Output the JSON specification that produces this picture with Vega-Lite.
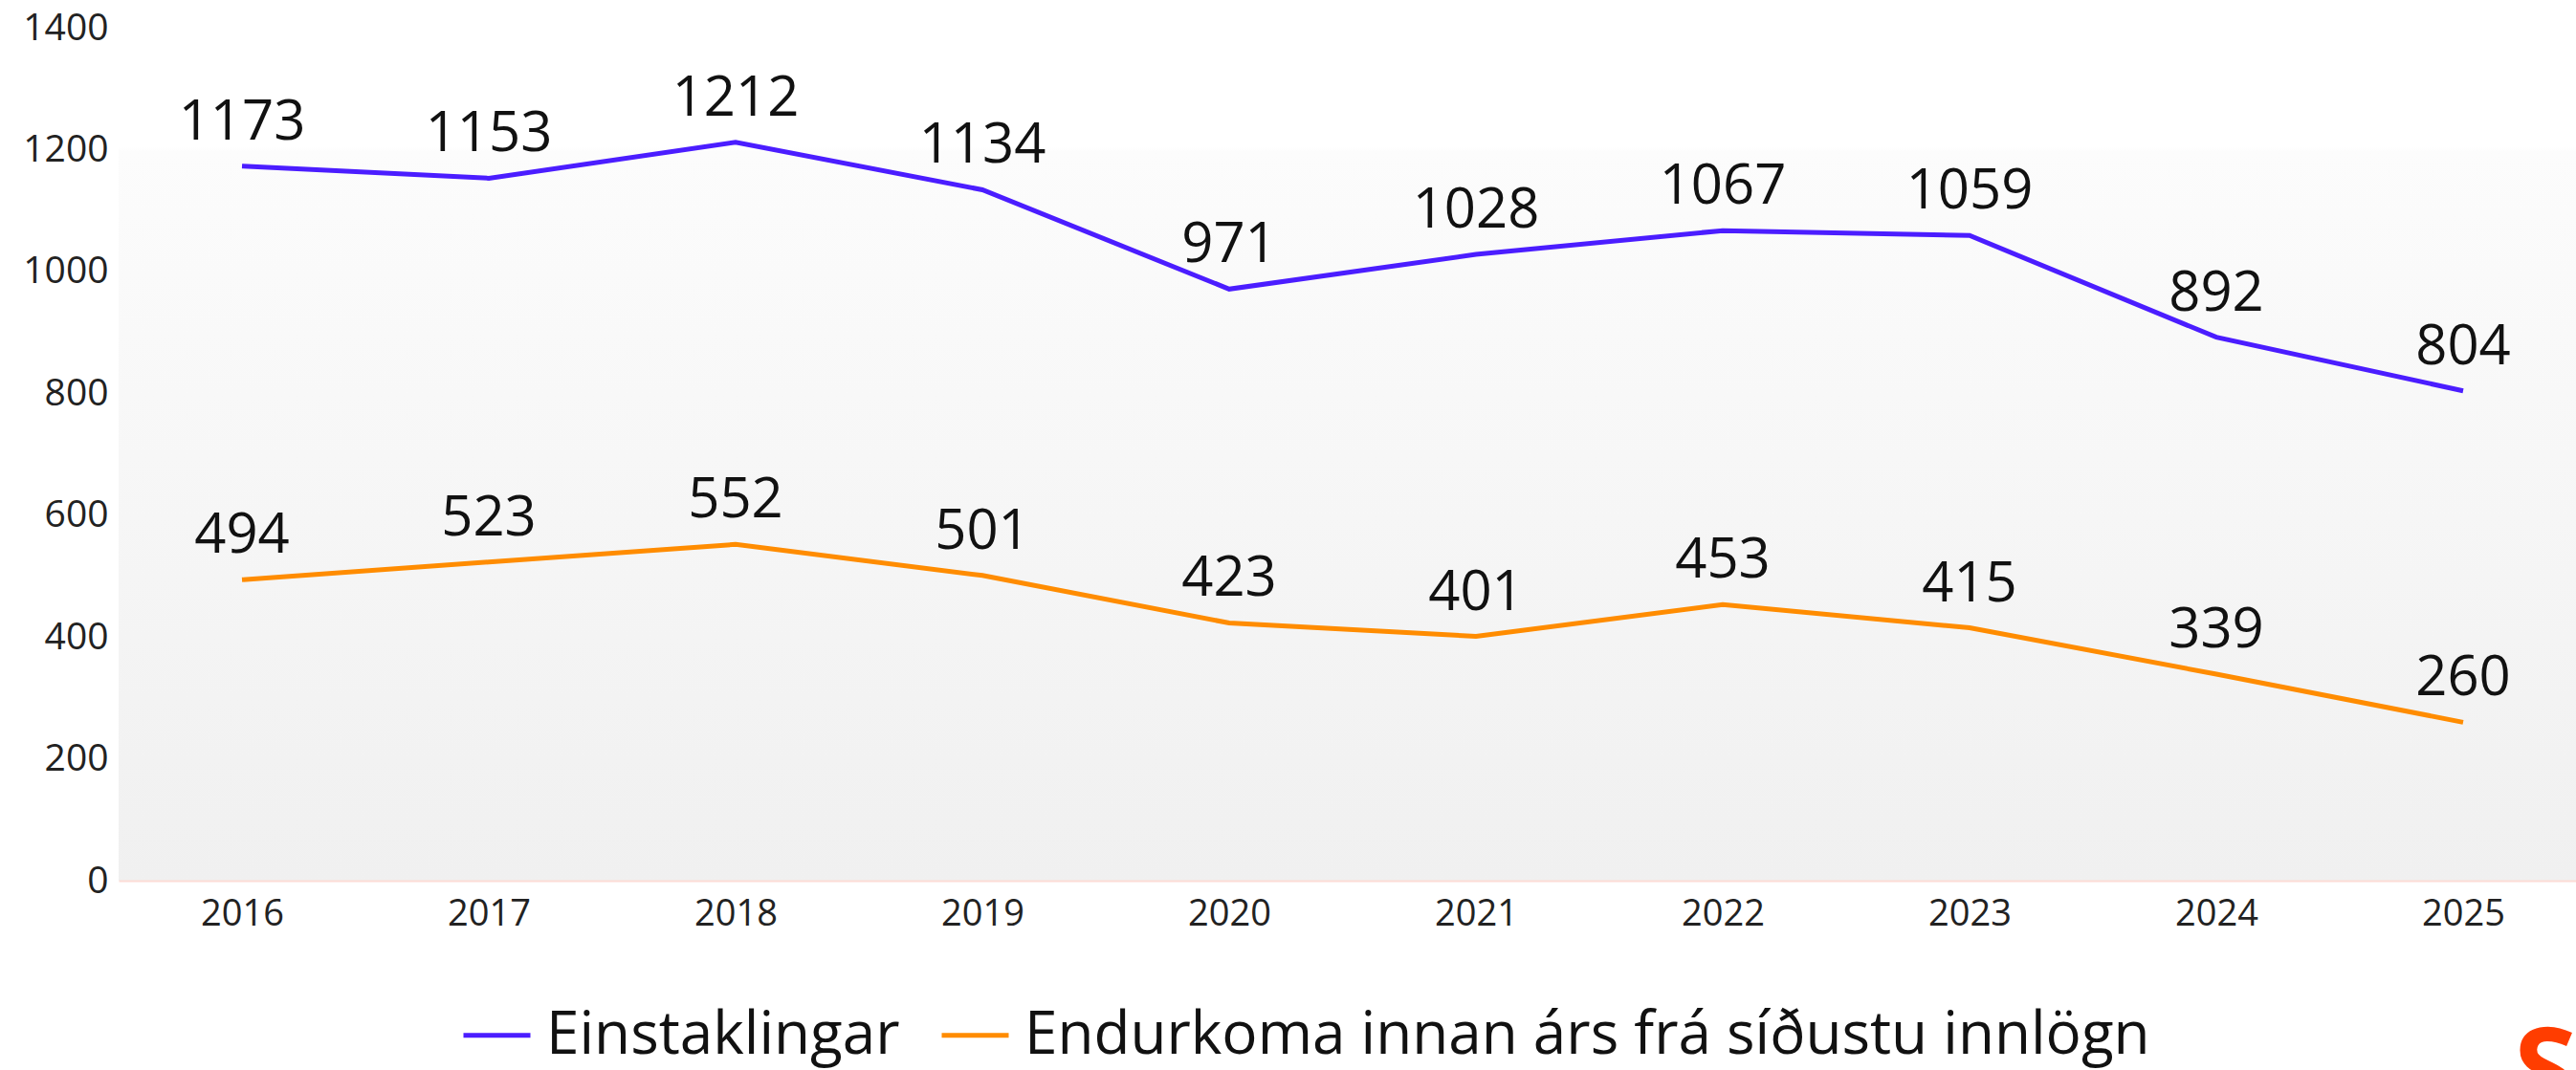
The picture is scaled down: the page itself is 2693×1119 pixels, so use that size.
{
  "$schema": "https://vega.github.io/schema/vega-lite/v6.json",
  "width": 2580,
  "height": 892,
  "autosize": {"type": "none"},
  "padding": {"left": 124, "top": 29, "right": 0, "bottom": 198},
  "background": "white",
  "config": {
    "font": "Open Sans",
    "view": {
      "stroke": null,
      "fill": {
        "gradient": "linear",
        "x1": 0, "y1": 0, "x2": 0, "y2": 1,
        "stops": [
          {"offset": 0, "color": "#ffffff"},
          {"offset": 0.14, "color": "#ffffff"},
          {"offset": 0.145, "color": "#fcfcfc"},
          {"offset": 1, "color": "#f0f0f0"}
        ]
      }
    }
  },
  "title": {
    "text": "S",
    "orient": "bottom",
    "anchor": "end",
    "frame": "group",
    "offset": -48,
    "dx": -10,
    "fontSize": 120,
    "fontWeight": "bold",
    "color": "#ff3d00"
  },
  "data": {
    "values": [
      {"year": "2016", "series": "Einstaklingar", "value": 1173},
      {"year": "2017", "series": "Einstaklingar", "value": 1153},
      {"year": "2018", "series": "Einstaklingar", "value": 1212},
      {"year": "2019", "series": "Einstaklingar", "value": 1134},
      {"year": "2020", "series": "Einstaklingar", "value": 971},
      {"year": "2021", "series": "Einstaklingar", "value": 1028},
      {"year": "2022", "series": "Einstaklingar", "value": 1067},
      {"year": "2023", "series": "Einstaklingar", "value": 1059},
      {"year": "2024", "series": "Einstaklingar", "value": 892},
      {"year": "2025", "series": "Einstaklingar", "value": 804},
      {"year": "2016", "series": "Endurkoma innan árs frá síðustu innlögn", "value": 494},
      {"year": "2017", "series": "Endurkoma innan árs frá síðustu innlögn", "value": 523},
      {"year": "2018", "series": "Endurkoma innan árs frá síðustu innlögn", "value": 552},
      {"year": "2019", "series": "Endurkoma innan árs frá síðustu innlögn", "value": 501},
      {"year": "2020", "series": "Endurkoma innan árs frá síðustu innlögn", "value": 423},
      {"year": "2021", "series": "Endurkoma innan árs frá síðustu innlögn", "value": 401},
      {"year": "2022", "series": "Endurkoma innan árs frá síðustu innlögn", "value": 453},
      {"year": "2023", "series": "Endurkoma innan árs frá síðustu innlögn", "value": 415},
      {"year": "2024", "series": "Endurkoma innan árs frá síðustu innlögn", "value": 339},
      {"year": "2025", "series": "Endurkoma innan árs frá síðustu innlögn", "value": 260}
    ]
  },
  "encoding": {
    "x": {
      "field": "year",
      "type": "ordinal",
      "scale": {"type": "point", "padding": 0.5},
      "axis": {
        "title": null,
        "labelAngle": 0,
        "labelFontSize": 38,
        "labelColor": "#222222",
        "labelPadding": 16,
        "ticks": false,
        "grid": false,
        "domain": true,
        "domainColor": "#fcdcd6",
        "domainWidth": 2
      }
    },
    "y": {
      "field": "value",
      "type": "quantitative",
      "scale": {"domain": [0, 1400], "nice": false},
      "axis": {
        "title": null,
        "format": "d",
        "values": [0, 200, 400, 600, 800, 1000, 1200, 1400],
        "labelFontSize": 39,
        "labelColor": "#222222",
        "labelPadding": 11,
        "ticks": false,
        "grid": false,
        "domain": false
      }
    },
    "color": {
      "field": "series",
      "type": "nominal",
      "scale": {
        "domain": ["Einstaklingar", "Endurkoma innan árs frá síðustu innlögn"],
        "range": ["#4b1dff", "#ff8c00"]
      },
      "legend": {
        "title": null,
        "orient": "none",
        "direction": "horizontal",
        "legendX": 358,
        "legendY": 1016,
        "symbolType": "stroke",
        "symbolSize": 4900,
        "symbolStrokeWidth": 5,
        "labelFontSize": 62,
        "labelColor": "#111111",
        "labelOffset": 14,
        "columnPadding": 33,
        "labelLimit": 2000
      }
    }
  },
  "layer": [
    {
      "mark": {"type": "line", "strokeWidth": 5}
    },
    {
      "mark": {
        "type": "text",
        "fontSize": 58,
        "baseline": "alphabetic",
        "dy": -28,
        "color": "#111111"
      },
      "encoding": {
        "text": {"field": "value", "type": "quantitative"},
        "color": {"value": "#111111"}
      }
    }
  ]
}
